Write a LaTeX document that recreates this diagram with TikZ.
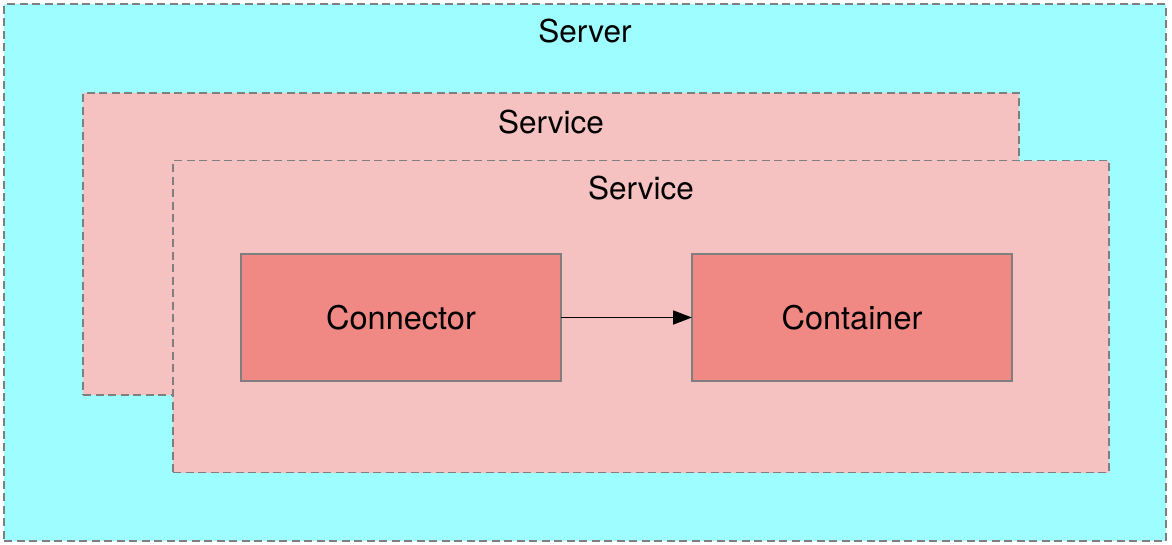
\documentclass[tikz,border=0pt]{standalone}
\usepackage{fontspec}
\setmainfont{TeX Gyre Heros}
\usetikzlibrary{arrows.meta}
\definecolor{servercol}{HTML}{9EFDFE}
\definecolor{servicecol}{HTML}{F6C1C1}
\definecolor{compcol}{HTML}{F08884}
\definecolor{edgecol}{HTML}{7F7F7F}
\tikzset{
  groupbox/.style={draw=edgecol, line width=1.6pt, dash pattern=on 8pt off 4.5pt, inner sep=0pt, outer sep=0pt},
  compbox/.style={draw=edgecol, line width=1.6pt, fill=compcol, inner sep=0pt, outer sep=0pt,
    minimum width=320pt, minimum height=127pt, font=\fontsize{32.5}{38}\selectfont},
  titletext/.style={anchor=base, inner sep=0pt, font=\fontsize{31.5}{36}\selectfont},
  flow/.style={line width=1.8pt, -{Triangle[length=19pt,width=14pt]}}
}
\begin{document}
\begin{tikzpicture}[x=1pt,y=-1pt]
\useasboundingbox (0,0) rectangle (1172,544);
\node[groupbox, fill=servercol, minimum width=1162pt, minimum height=537pt] (server) at (585,272.5) {};
\node[titletext] (servertitle) at (585,42) {Server};
\node[groupbox, fill=servicecol, minimum width=936pt, minimum height=302pt] (service1) at (551,244) {};
\node[titletext] (service1title) at (551,133) {Service};
\node[groupbox, fill=servicecol, minimum width=936pt, minimum height=312pt] (service2) at (641,316.5) {};
\node[titletext] (service2title) at (641,199) {Service};
\node[compbox] (connector) at (401,317.5) {Connector};
\node[compbox] (container) at (852,317.5) {Container};
\draw[flow] (connector.east) -- (container.west);
\end{tikzpicture}
\end{document}
